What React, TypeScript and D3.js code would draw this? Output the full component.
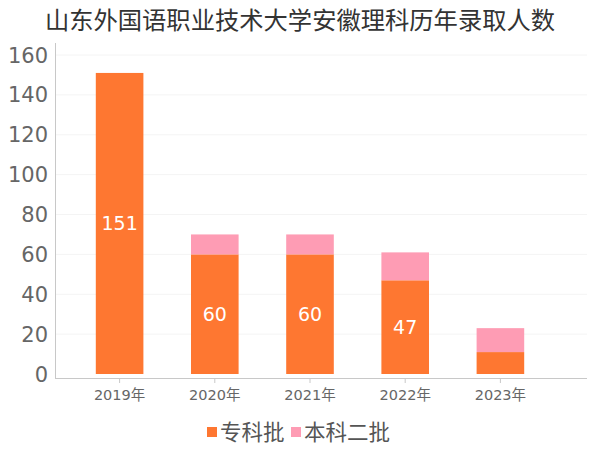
import React from "react";
import * as d3 from "d3";

const categories = ["2019年", "2020年", "2021年", "2022年", "2023年"];
const zhuanke = [151, 60, 60, 47, 11];
const benke2 = [0, 10, 10, 14, 12];
const yTicks = [0, 20, 40, 60, 80, 100, 120, 140, 160];
const seriesNames = ["专科批", "本科二批"];
const colors = ["#fe7731", "#fe9cb4"];

const FONT = "'DejaVu Sans', 'Noto Sans CJK SC', sans-serif";

export default function App() {
  const W = 600, H = 450;
  const x = d3.scaleBand<string>().domain(categories).range([72, 548]).paddingInner(0.5).paddingOuter(0.25);
  const y = d3.scaleLinear().domain([0, 160]).range([374, 55]);
  const bw = x.bandwidth();
  return (
    <svg width={W} height={H} style={{ position: "absolute", left: 0, top: 0, background: "#fff" }} fontFamily={FONT}>
      <text x={300} y={29} textAnchor="middle" fontSize={24.3} fill="#333">山东外国语职业技术大学安徽理科历年录取人数</text>
      {yTicks.map((t) => (
        <g key={t}>
          {t > 0 && <line x1={56} x2={587} y1={y(t)} y2={y(t)} stroke="#f4f4f4" strokeWidth={1} />}
          <text x={48} y={y(t)} dy="0.36em" textAnchor="end" fontSize={21} fill="#666">{t}</text>
        </g>
      ))}
      <line x1={55.5} x2={55.5} y1={43} y2={378} stroke="#c8c8c8" />
      <line x1={55} x2={587} y1={378.5} y2={378.5} stroke="#c8c8c8" />
      {categories.map((c, i) => {
        const cx = (x(c) as number) + bw / 2;
        return (
          <g key={c}>
            <line x1={cx} x2={cx} y1={378} y2={383} stroke="#c8c8c8" />
            <text x={cx} y={400} textAnchor="middle" fontSize={14.5} fill="#666">{c}</text>
            <rect x={x(c)} width={bw} y={y(zhuanke[i])} height={y(0) - y(zhuanke[i])} fill={colors[0]} />
            {benke2[i] > 0 && (
              <rect x={x(c)} width={bw} y={y(zhuanke[i] + benke2[i])} height={y(zhuanke[i]) - y(zhuanke[i] + benke2[i])} fill={colors[1]} />
            )}
            {zhuanke[i] > 20 && (
              <text x={cx} y={(y(0) + y(zhuanke[i])) / 2} dy="0.36em" textAnchor="middle" fontSize={19} fill="#fff">{zhuanke[i]}</text>
            )}
          </g>
        );
      })}
      <g>
        <rect x={207} y={427} width={10} height={10} fill={colors[0]} />
        <text x={220} y={440} fontSize={21.5} fill="#555">{seriesNames[0]}</text>
        <rect x={291} y={427} width={10} height={10} fill={colors[1]} />
        <text x={304} y={440} fontSize={21.5} fill="#555">{seriesNames[1]}</text>
      </g>
    </svg>
  );
}
